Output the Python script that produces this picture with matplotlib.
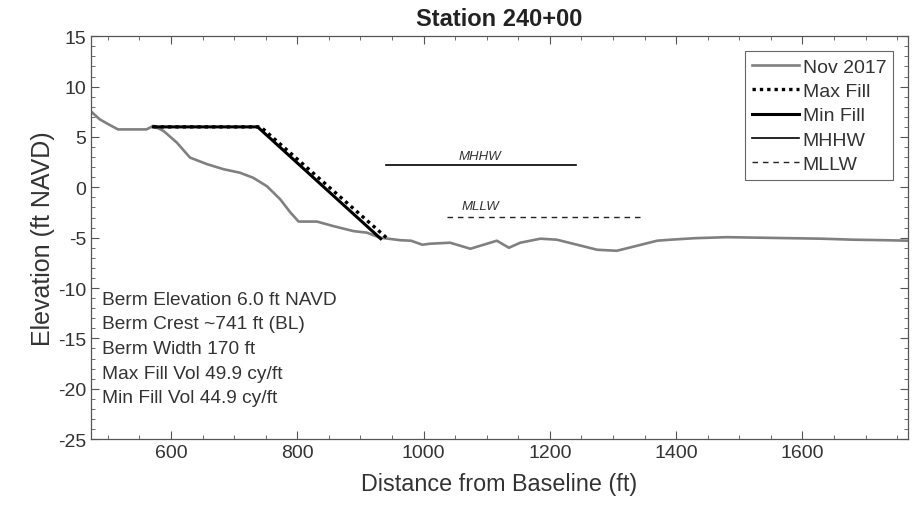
import numpy as np
import matplotlib
matplotlib.use("Agg")
import matplotlib.pyplot as plt
from matplotlib.ticker import MultipleLocator

plt.rcParams['font.family'] = ['Liberation Sans', 'DejaVu Sans']
plt.rcParams['axes.unicode_minus'] = False

# Nov 2017 surveyed profile (distance from baseline ft, elevation ft NAVD)
nov_x = [472, 487, 501, 516, 561, 572, 588, 609, 630, 657, 683, 709, 730, 752,
         773, 789, 802, 831, 857, 889, 910, 931, 963, 980, 998, 1010, 1042,
         1074, 1095, 1116, 1135, 1153, 1185, 1211, 1243, 1275, 1306, 1338,
         1370, 1391, 1430, 1480, 1530, 1580, 1630, 1680, 1730, 1768]
nov_y = [7.6, 6.75, 6.25, 5.75, 5.75, 6.1, 5.6, 4.45, 2.95, 2.3, 1.8, 1.45,
         0.95, 0.1, -1.2, -2.5, -3.4, -3.4, -3.85, -4.35, -4.5, -5.0, -5.25,
         -5.3, -5.7, -5.6, -5.5, -6.1, -5.7, -5.3, -6.0, -5.5, -5.1, -5.2,
         -5.7, -6.2, -6.3, -5.8, -5.3, -5.2, -5.05, -4.95, -5.0, -5.05, -5.1,
         -5.2, -5.25, -5.3]

# berm templates
max_x = [572, 742, 943]
max_y = [6.0, 6.0, -5.1]
min_x = [572, 737, 932]
min_y = [6.0, 6.0, -5.1]

# tidal datums
mhhw_x = [940, 1242]
mhhw = 2.2
mllw_x = [1037, 1343]
mllw = -2.9

info = ["Berm Elevation 6.0 ft NAVD",
        "Berm Crest ~741 ft (BL)",
        "Berm Width 170 ft",
        "Max Fill Vol 49.9 cy/ft",
        "Min Fill Vol 44.9 cy/ft"]

txt = '#333333'
fig = plt.figure(figsize=(9.18, 5.10), dpi=100)
ax = fig.add_axes([0.099, 0.137, 0.890, 0.790])

ax.plot(nov_x, nov_y, color='#808080', lw=1.9, label='Nov 2017', zorder=2)
ax.plot(max_x, max_y, color='black', lw=2.4, ls=(0, (1, 1.2)), label='Max Fill', zorder=3)
ax.plot(min_x, min_y, color='black', lw=2.2, label='Min Fill', zorder=4)
ax.plot(mhhw_x, [mhhw, mhhw], color='black', lw=1.2, label='MHHW')
ax.plot(mllw_x, [mllw, mllw], color='#222222', lw=1.0, ls=(0, (4, 3.5)), label='MLLW')

ax.text(1090, mhhw + 0.3, 'MHHW', style='italic', fontsize=9.5, color=txt,
        ha='center', va='bottom')
ax.text(1090, mllw + 0.4, 'MLLW', style='italic', fontsize=9.5, color=txt,
        ha='center', va='bottom')

for i, line in enumerate(info):
    ax.text(0.0135, 0.347 - i * 0.061, line, transform=ax.transAxes,
            fontsize=13.8, color=txt, va='center', ha='left')

ax.set_xlim(473, 1767)
ax.set_ylim(-25, 15)
ax.xaxis.set_major_locator(MultipleLocator(200))
ax.xaxis.set_minor_locator(MultipleLocator(50))
ax.yaxis.set_major_locator(MultipleLocator(5))
ax.yaxis.set_minor_locator(MultipleLocator(1))
ax.tick_params(which='both', direction='in', top=True, right=True,
               colors='#555555', labelcolor=txt, labelsize=14)
ax.tick_params(which='major', length=6, width=0.8)
ax.tick_params(which='minor', length=3, width=0.6)
for s in ax.spines.values():
    s.set_color('#555555')
    s.set_linewidth(0.9)

ax.set_xlabel('Distance from Baseline (ft)', fontsize=16.8, color=txt, labelpad=8)
ax.set_ylabel('Elevation (ft NAVD)', fontsize=18, color=txt, labelpad=2)
ax.set_title('Station 240+00', fontsize=17, fontweight='bold', color='#222222', pad=8)

leg = ax.legend(loc='upper right', bbox_to_anchor=(0.982, 0.963), borderaxespad=0,
                fontsize=14, handlelength=2.4, handletextpad=0.2, labelspacing=0.35,
                borderpad=0.35, fancybox=False, framealpha=1)
leg.get_frame().set_edgecolor('#666666')
leg.get_frame().set_linewidth(0.8)
for t in leg.get_texts():
    t.set_color(txt)

fig.savefig('out.png', dpi=100, facecolor='white')
